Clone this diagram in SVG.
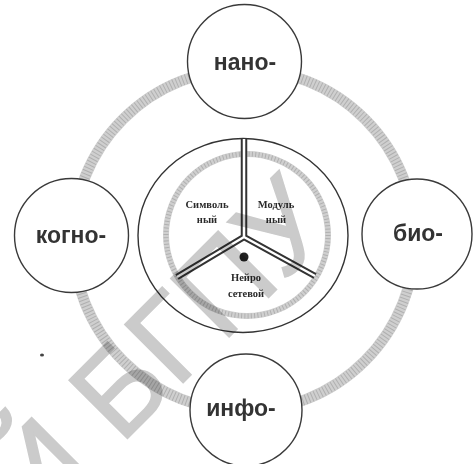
<svg xmlns="http://www.w3.org/2000/svg" width="473" height="464" viewBox="0 0 473 464">
<defs>
<style>
.node{fill:#fff;stroke:#3a3a3a;stroke-width:1.4}
.lbl{font-family:"Liberation Sans",Arial,sans-serif;font-weight:bold;font-size:23px;fill:#333;text-anchor:middle}
.small{font-family:"Liberation Serif","Times New Roman",serif;font-weight:bold;font-size:10.5px;fill:#2a2a2a;text-anchor:middle}
.ring{fill:none;stroke:#cfcfcf}
.ringtex{fill:none;stroke:#b0b0b0;stroke-dasharray:1 2.3}
.ybar{stroke:#333;stroke-width:6.5;stroke-linecap:butt;fill:none}
.ygap{stroke:#fff;stroke-width:2.5;stroke-linecap:butt;fill:none}
.wm{font-family:"Liberation Sans",Arial,sans-serif;font-size:120px;fill:#cbcbcb;stroke:#cbcbcb;stroke-width:1.5;mix-blend-mode:multiply}
</style>
</defs>
<rect width="473" height="464" fill="#fff"/>
<g id="outer-ring">
<circle cx="244" cy="240" r="171" class="ring" stroke-width="11"/>
<circle cx="244" cy="240" r="171" class="ringtex" stroke-width="10"/>
</g>
<g id="center">
<ellipse cx="243" cy="235.5" rx="105" ry="97" fill="#fff" stroke="#333" stroke-width="1.4"/>
<circle cx="247" cy="235" r="81" class="ring" stroke-width="6"/>
<circle cx="247" cy="235" r="81" class="ringtex" stroke-width="5"/>
</g>
<g id="connectors">
<path class="ybar" d="M244,139 V237 M244,237 L177,277 M244,237 L315,276"/>
<path class="ygap" d="M244,139 V237 M244,237 L177,277 M244,237 L315,276"/>
<circle cx="244" cy="257" r="4.5" fill="#222"/>
</g>
<g id="symbolic"><text class="small" x="207" y="208">Символь</text><text class="small" x="207" y="223">ный</text></g>
<g id="modular"><text class="small" x="276" y="208">Модуль</text><text class="small" x="276" y="223">ный</text></g>
<g id="neuro"><text class="small" x="246" y="281">Нейро</text><text class="small" x="246" y="297">сетевой</text></g>
<ellipse cx="42" cy="355" rx="2" ry="1.5" fill="#444"/>
<g id="watermark" transform="translate(36,530) rotate(-45)">
<text class="wm" x="0" y="0">Й БГПУ</text>
</g>
<g id="nano"><circle class="node" cx="244.5" cy="61.5" r="57"/><text class="lbl" x="245" y="70">нано-</text></g>
<g id="kogno"><circle class="node" cx="71.5" cy="235.5" r="57"/><text class="lbl" x="71" y="243">когно-</text></g>
<g id="bio"><circle class="node" cx="417" cy="234" r="55"/><text class="lbl" x="418" y="241">био-</text></g>
<g id="info"><circle class="node" cx="246" cy="410" r="56"/><text class="lbl" x="241" y="416">инфо-</text></g>
</svg>
